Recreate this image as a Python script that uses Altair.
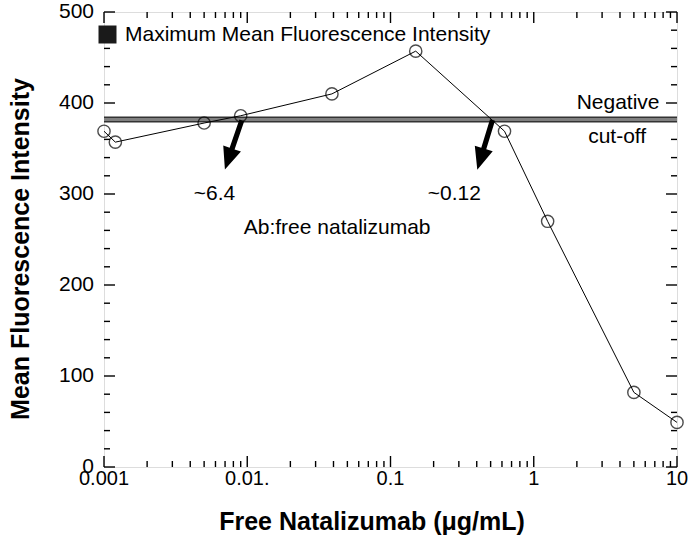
import altair as alt
import pandas as pd

# ---- data ----
conc = [0.001, 0.0012, 0.005, 0.009, 0.039, 0.15, 0.625, 1.25, 5, 10]
mfi = [369, 357, 378, 386, 410, 457, 369, 270, 82, 49]
cutoff = [382]

x_major = [0.001, 0.01, 0.1, 1, 10]
x_labels = ["0.001", "0.01.", "0.1", "1", "10"]
x_minor = [0.002, 0.003, 0.004, 0.005, 0.006, 0.007, 0.008, 0.009,
           0.02, 0.03, 0.04, 0.05, 0.06, 0.07, 0.08, 0.09,
           0.2, 0.3, 0.4, 0.5, 0.6, 0.7, 0.8, 0.9,
           2, 3, 4, 5, 6, 7, 8, 9]
y_major = [0, 100, 200, 300, 400, 500]
y_labels = ["0", "100", "200", "300", "400", "500"]
y_minor = [20, 40, 60, 80, 120, 140, 160, 180, 220, 240, 260, 280,
           320, 340, 360, 380, 420, 440, 460, 480]

x_title = "Free Natalizumab (μg/mL)"
y_title = "Mean Fluorescence Intensity"

ann_text = ["~6.4", "~0.12", "Ab:free natalizumab", "Negative", "cut-off"]
ann_x = [0.0059, 0.279, 0.0424, 3.88, 3.82]
ann_y = [300, 300, 263, 400, 363]

arrow_x = [0.0080, 0.456]
arrow_y = [354, 354]
arrow_angle = [19, 17]

legend_label = ["Maximum Mean Fluorescence Intensity"]

# ---- chart ----
W, H = 573, 455
MAJ, MIN = 11, 6
FONT = "Liberation Sans"
xscale = alt.Scale(type="log", domain=[0.001, 10], nice=False)
yscale = alt.Scale(domain=[0, 500], nice=False, zero=True)

df = pd.DataFrame({"conc": conc, "mfi": mfi})


def X(field):
    return alt.X(field, scale=xscale, axis=None)


def Y(field):
    return alt.Y(field, scale=yscale, axis=None)


# inward tick marks on all four sides, placed by the scales
TICK = dict(color="black", strokeWidth=1.4)


def xticks(values, length):
    d = pd.DataFrame({"v": values})
    bottom = alt.Chart(d).mark_rule(**TICK).encode(
        x=X("v:Q"), y=alt.value(H), y2=alt.value(H - length))
    top = alt.Chart(d).mark_rule(**TICK).encode(
        x=X("v:Q"), y=alt.value(0), y2=alt.value(length))
    return [bottom, top]


def yticks(values, length):
    d = pd.DataFrame({"v": values})
    left = alt.Chart(d).mark_rule(**TICK).encode(
        y=Y("v:Q"), x=alt.value(0), x2=alt.value(length))
    right = alt.Chart(d).mark_rule(**TICK).encode(
        y=Y("v:Q"), x=alt.value(W), x2=alt.value(W - length))
    return [left, right]


tick_layers = (xticks(x_major, MAJ) + xticks(x_minor, MIN)
               + yticks(y_major, MAJ) + yticks(y_minor, MIN))

# tick labels and axis titles
xl_df = pd.DataFrame({"v": x_major, "t": x_labels})
x_tick_labels = alt.Chart(xl_df).mark_text(
    font=FONT, fontSize=20, color="black", align="center", baseline="top").encode(
    x=X("v:Q"), y=alt.value(H + 2), text="t:N")
yl_df = pd.DataFrame({"v": y_major, "t": y_labels})
y_tick_labels = alt.Chart(yl_df).mark_text(
    font=FONT, fontSize=21, color="black", align="right", baseline="middle").encode(
    y=Y("v:Q"), x=alt.value(-10), text="t:N")

xt_df = pd.DataFrame({"t": [x_title]})
x_title_mark = alt.Chart(xt_df).mark_text(
    font=FONT, fontSize=25, fontWeight="bold", color="black",
    align="center", baseline="alphabetic").encode(
    x=alt.value(268), y=alt.value(H + 63), text="t:N")
yt_df = pd.DataFrame({"t": [y_title]})
y_title_mark = alt.Chart(yt_df).mark_text(
    font=FONT, fontSize=25, fontWeight="bold", color="black",
    align="center", baseline="alphabetic", angle=270).encode(
    x=alt.value(-75), y=alt.value(237), text="t:N")

cut_df = pd.DataFrame({"y": cutoff})
rule_dark = alt.Chart(cut_df).mark_rule(color="#333333", strokeWidth=6).encode(y=Y("y:Q"))
rule_light = alt.Chart(cut_df).mark_rule(color="#808080", strokeWidth=3).encode(y=Y("y:Q"))

line = alt.Chart(df).mark_line(color="black", strokeWidth=1).encode(
    x=X("conc:Q"), y=Y("mfi:Q"))
pts = alt.Chart(df).mark_point(shape="circle", size=150, filled=False,
                               color="black", strokeWidth=1.4).encode(
    x=X("conc:Q"), y=Y("mfi:Q"))

arrow_path = "M-0.1,-1L0.1,-1L0.1,0.15L0.36,0.15L0,1L-0.36,0.15L-0.1,0.15Z"
arr_df = pd.DataFrame({"x": arrow_x, "y": arrow_y, "angle": arrow_angle})
arrows = alt.Chart(arr_df).mark_point(shape=arrow_path, size=2704, filled=True,
                                      color="black", opacity=1).encode(
    x=X("x:Q"), y=Y("y:Q"), angle=alt.Angle("angle:Q", scale=None))

ann_df = pd.DataFrame({"t": ann_text, "x": ann_x, "y": ann_y})
texts = alt.Chart(ann_df).mark_text(font=FONT, fontSize=21, color="black",
                                    align="center", baseline="middle").encode(
    x=X("x:Q"), y=Y("y:Q"), text="t:N")

leg_df = pd.DataFrame({"label": legend_label})
legend_layer = alt.Chart(leg_df).mark_square(opacity=0, filled=True).encode(
    fill=alt.Fill("label:N", scale=alt.Scale(range=["#1a1a1a"]),
                  legend=alt.Legend(title=None, orient="none", legendX=-7, legendY=12,
                                    symbolType="square", symbolSize=324,
                                    symbolOpacity=1, symbolStrokeWidth=0,
                                    labelFont=FONT, labelFontSize=21, labelColor="black",
                                    labelOffset=7, padding=0, labelLimit=0)))

chart = alt.layer(*tick_layers, rule_dark, rule_light, line, pts, arrows,
                  texts, x_tick_labels, y_tick_labels, x_title_mark, y_title_mark,
                  legend_layer).properties(
    width=W, height=H,
    autosize=alt.AutoSizeParams(type="none"),
    padding={"left": 104, "top": 12, "right": 15, "bottom": 69},
    background="white",
).configure_view(stroke="#222222", strokeWidth=2).configure(font=FONT)

chart.save("out.html", embed_options={"renderer": "svg", "actions": False})
